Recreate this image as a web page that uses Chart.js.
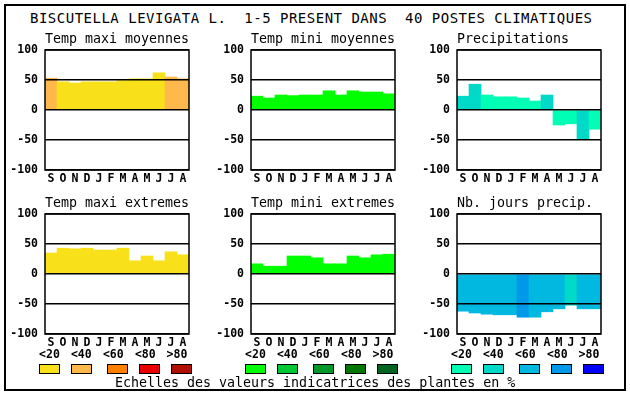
<!DOCTYPE html>
<html><head><meta charset="utf-8">
<script src="https://cdn.jsdelivr.net/npm/chart.js@4"></script>
<style>
html,body{margin:0;padding:0;background:#fff;}
#wrap{position:relative;width:630px;height:394px;overflow:hidden;font-family:'DejaVu Sans Mono',monospace;color:#000;}
.t{position:absolute;white-space:pre;}
canvas{position:absolute;}
.sw{position:absolute;box-sizing:border-box;border:1px solid #000;width:21px;height:10px;}
</style></head><body>
<div id="wrap">
 <div style="position:absolute;left:4px;top:4px;width:622px;height:387px;box-sizing:border-box;border:2px solid #000"></div>
</div>
<script>
const months = ['S','O','N','D','J','F','M','A','M','J','J','A'];
const mainTitle = 'BISCUTELLA LEVIGATA L.  1-5 PRESENT DANS  40 POSTES CLIMATIQUES';
const panelTitles = ['Temp maxi moyennes','Temp mini moyennes','Precipitations','Temp maxi extremes','Temp mini extremes','Nb. jours precip.'];
const yTicks = [100,50,0,-50,-100];
const legendLabels = ['<20','<40','<60','<80','>80'];
const footer = 'Echelles des valeurs indicatrices des plantes en %';

const warmScale = ['#f8e11a','#ffb84c','#ff7f00','#e80000','#b01000'];
const greenScale = ['#00ff00','#00c832','#009828','#007800','#006420'];
const blueScale = ['#00ffb4','#00d8c8','#00b8e0','#0098e8','#0000ff'];

const tmaxMoy = [53,47,45,47,47,47,49,52,52,62,55,52];
const tmaxMoyCls = [1,0,0,0,0,0,0,0,0,0,1,1];
const tminMoy = [23,20,25,24,25,25,32,25,32,30,30,27];
const tminMoyCls = [0,0,0,0,0,0,0,0,0,0,0,0];
const precip = [23,43,25,22,22,20,15,25,-25,-23,-48,-32];
const precipCls = [1,1,0,0,0,0,0,1,0,0,1,0];
const tmaxExt = [35,43,42,43,40,40,43,22,30,22,37,32];
const tmaxExtCls = [0,0,0,0,0,0,0,0,0,0,0,0];
const tminExt = [17,13,13,30,30,27,17,17,30,27,32,33];
const tminExtCls = [0,0,0,0,0,0,0,0,0,0,0,0];
const nbJours = [-62,-65,-67,-68,-68,-72,-72,-63,-58,-52,-58,-58];
const nbJoursCls = [2,2,2,2,2,3,2,2,2,1,2,2];

const FONT = "'DejaVu Sans Mono', monospace";
const wrap = document.getElementById('wrap');

function addText(txt, x, cy, size, weight, align, extra) {
  const d = document.createElement('div');
  d.className = 't';
  d.textContent = txt;
  d.style.fontSize = size + 'px';
  d.style.fontWeight = weight;
  d.style.lineHeight = '20px';
  d.style.height = '20px';
  d.style.top = (cy - 10) + 'px';
  if (align === 'center') { d.style.left = (x - 100) + 'px'; d.style.width = '200px'; d.style.textAlign = 'center'; }
  else d.style.left = x + 'px';
  if (extra) Object.assign(d.style, extra);
  wrap.appendChild(d);
}

addText(mainTitle, 30, 18, 14, 'normal', 'left', {letterSpacing:'0.5px'});

const framePlugin = {
  id:'frame',
  afterDraw(chart){
    const a = chart.chartArea, ctx = chart.ctx;
    ctx.save();
    ctx.strokeStyle = '#000';
    ctx.lineWidth = 1.5;
    ctx.strokeRect(a.left, a.top, a.right - a.left, a.bottom - a.top);
    ctx.restore();
  }
};

const panels = [
  [tmaxMoy, tmaxMoyCls, warmScale],
  [tminMoy, tminMoyCls, greenScale],
  [precip, precipCls, blueScale],
  [tmaxExt, tmaxExtCls, warmScale],
  [tminExt, tminExtCls, greenScale],
  [nbJours, nbJoursCls, blueScale]
];

const PADTOP = 12, XAX = 17, CW = 195, CH = PADTOP + 120 + XAX;

panels.forEach((p, i) => {
  const col = i % 3, row = Math.floor(i / 3);
  const plotLeft = 45 + 206 * col, plotTop = 50 + 164 * row;
  const cv = document.createElement('canvas');
  cv.width = CW; cv.height = CH;
  cv.style.left = (plotLeft - 45) + 'px';
  cv.style.top = (plotTop - PADTOP) + 'px';
  cv.style.width = CW + 'px'; cv.style.height = CH + 'px';
  wrap.appendChild(cv);
  addText(panelTitles[i], plotLeft, plotTop - 11.5, 13.3, 'normal', 'left');
  new Chart(cv, {
    type:'bar',
    data:{labels: months, datasets:[{data: p[0], backgroundColor: p[1].map(c => p[2][c]), borderWidth:0, categoryPercentage:1, barPercentage:1}]},
    options:{
      responsive:false, animation:false, devicePixelRatio:1,
      layout:{padding:{top:PADTOP, right:6, left:0, bottom:0}},
      plugins:{legend:{display:false}, tooltip:{enabled:false}, title:{display:false}},
      scales:{
        x:{
          grid:{display:false, drawTicks:false}, border:{display:false},
          ticks:{font:{family:FONT, size:11.5, weight:'bold'}, color:'#000', padding:2.5, maxRotation:0, autoSkip:false},
          afterFit(s){ s.height = XAX; }
        },
        y:{
          min:-100, max:100,
          afterBuildTicks(s){ s.ticks = yTicks.map(v => ({value:v})); },
          ticks:{font:{family:FONT, size:11.5, weight:'bold'}, color:'#000', padding:0},
          grid:{color:'#000', lineWidth:1.5, drawTicks:true, tickLength:7, tickColor:'rgba(0,0,0,0)', z:1},
          border:{display:false},
          afterFit(s){ s.width = 45; }
        }
      }
    },
    plugins:[framePlugin]
  });
});

const swatchOffsets = [-6, 26, 62, 94, 126];
const labelOffsets = [4.5, 36.3, 68.3, 100.3, 132];
[warmScale, greenScale, blueScale].forEach((sc, col) => {
  const plotLeft = 45 + 206 * col;
  sc.forEach((c, k) => {
    addText(legendLabels[k], plotLeft + labelOffsets[k], 354, 11.5, 'bold', 'center');
    const s = document.createElement('div');
    s.className = 'sw';
    s.style.left = (plotLeft + swatchOffsets[k]) + 'px';
    s.style.top = '364px';
    s.style.background = c;
    wrap.appendChild(s);
  });
});

addText(footer, 115, 382.5, 13.3, 'normal', 'left');
</script>
</body></html>
